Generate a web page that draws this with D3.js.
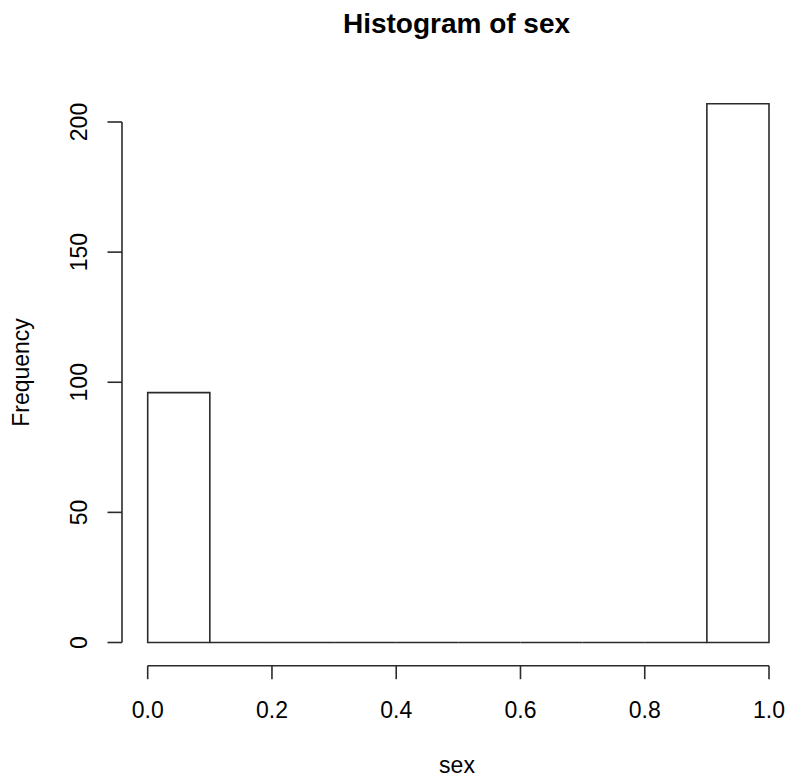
<!DOCTYPE html>
<html>
<head>
<meta charset="utf-8">
<script src="https://cdn.jsdelivr.net/npm/d3@7"></script>
<style>
  body { margin: 0; background: #fff; }
  svg text { font-family: "Liberation Sans", Arial, sans-serif; fill: #000; }
</style>
</head>
<body>
<svg id="chart" width="787" height="778"></svg>
<script>
// histogram bins (sex: 0 / 1), width 0.1
const binStarts = [0, 0.1, 0.2, 0.3, 0.4, 0.5, 0.6, 0.7, 0.8, 0.9];
const binWidth = 0.1;
const counts = [96, 0, 0, 0, 0, 0, 0, 0, 0, 207];
const xTicks = [0, 0.2, 0.4, 0.6, 0.8, 1.0];
const yTicks = [0, 50, 100, 150, 200];

const svg = d3.select('#chart');
const ink = '#2b2b2b';

const x = d3.scaleLinear().domain([0, 1]).range([147.7, 769]);
const y = d3.scaleLinear().domain([0, 200]).range([642.5, 122]);

const bins = binStarts.map((s, i) => ({ x0: s, x1: s + binWidth, n: counts[i] }));

// bars as closed paths so empty bins still show a line on the baseline
svg.append('g')
    .selectAll('path')
    .data(bins)
    .join('path')
    .attr('d', d => {
        const l = x(d.x0), r = x(d.x1), b = y(0), t = y(d.n);
        return `M${l},${b}L${l},${t}L${r},${t}L${r},${b}Z`;
    })
    .attr('fill', 'none')
    .attr('stroke', ink)
    .attr('stroke-width', 1.6);

// x axis, drawn below the plot like base R
const xAxis = svg.append('g').attr('transform', 'translate(0,665.7)');
xAxis.append('line')
    .attr('x1', x(0)).attr('x2', x(1))
    .attr('stroke', ink).attr('stroke-width', 1.6);
xAxis.selectAll('line.tick')
    .data(xTicks)
    .join('line')
    .attr('class', 'tick')
    .attr('x1', d => x(d)).attr('x2', d => x(d))
    .attr('y1', 0).attr('y2', 13.5)
    .attr('stroke', ink).attr('stroke-width', 1.6);
xAxis.selectAll('text')
    .data(xTicks)
    .join('text')
    .attr('x', d => x(d))
    .attr('y', 52.5)
    .attr('text-anchor', 'middle')
    .style('font-size', '23px')
    .text(d => d3.format('.1f')(d));

// y axis
const yAxis = svg.append('g').attr('transform', 'translate(122,0)');
yAxis.append('line')
    .attr('y1', y(0)).attr('y2', y(200))
    .attr('stroke', ink).attr('stroke-width', 1.6);
yAxis.selectAll('line.tick')
    .data(yTicks)
    .join('line')
    .attr('class', 'tick')
    .attr('y1', d => y(d)).attr('y2', d => y(d))
    .attr('x1', 0).attr('x2', -14.5)
    .attr('stroke', ink).attr('stroke-width', 1.6);
yAxis.selectAll('text')
    .data(yTicks)
    .join('text')
    .attr('transform', d => `translate(-35,${y(d)}) rotate(-90)`)
    .attr('text-anchor', 'middle')
    .style('font-size', '23px')
    .text(d => d);

svg.append('text')
    .attr('x', 456.5).attr('y', 33)
    .attr('text-anchor', 'middle')
    .style('font-size', '28px')
    .style('font-weight', 'bold')
    .text('Histogram of sex');

svg.append('text')
    .attr('x', 457).attr('y', 773)
    .attr('text-anchor', 'middle')
    .style('font-size', '23px')
    .text('sex');

svg.append('text')
    .attr('transform', 'translate(29,372.5) rotate(-90)')
    .attr('text-anchor', 'middle')
    .style('font-size', '23px')
    .text('Frequency');
</script>
</body>
</html>
